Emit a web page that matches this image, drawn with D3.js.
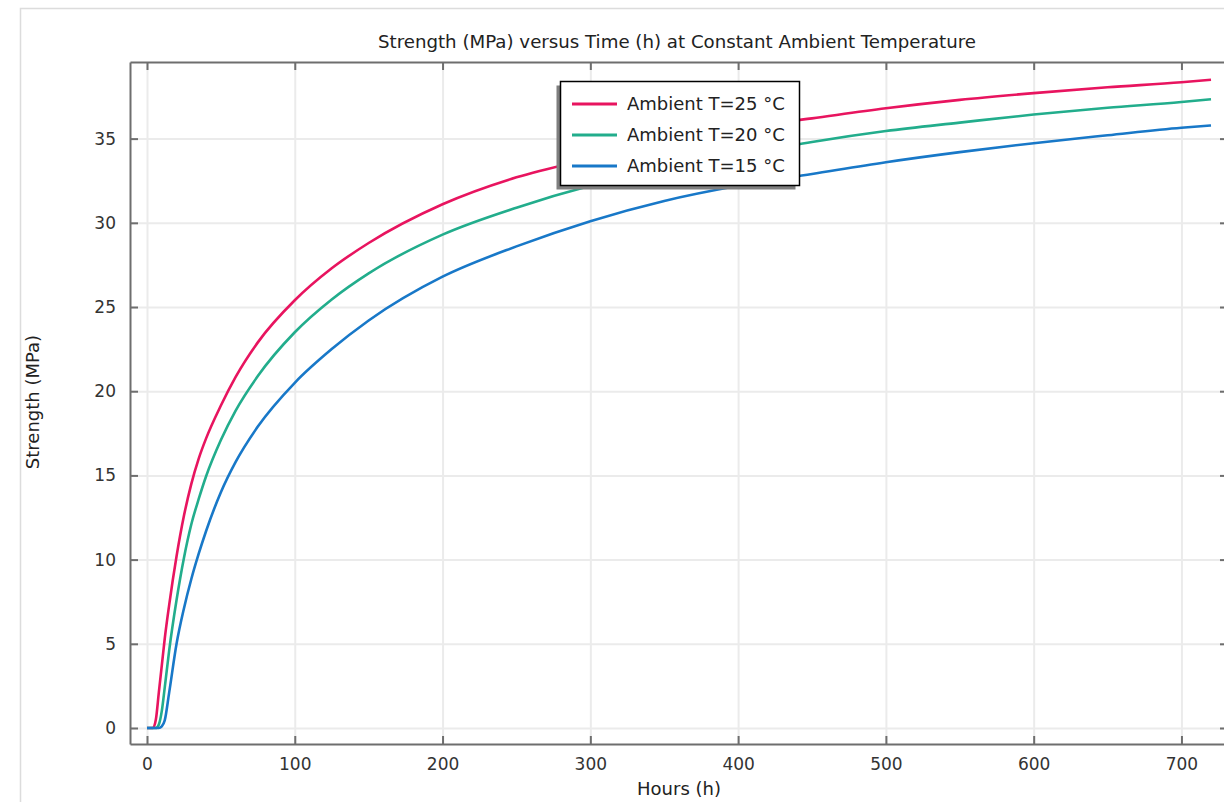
<!DOCTYPE html>
<html>
<head>
<meta charset="utf-8">
<script src="https://cdn.jsdelivr.net/npm/d3@7/dist/d3.min.js"></script>
<style>
    body { margin: 0; background: #fff; }
    svg { display: block; font-family: 'DejaVu Sans', sans-serif; }
</style>
</head>
<body>
<div id="chart"></div>
<script>
// Values
const hours = [0, 4, 6, 8, 10, 12, 15, 20, 25, 30, 35, 40, 50, 60, 75, 100, 125, 150, 200, 250, 300, 350, 400, 450, 500, 550, 600, 650, 700, 720];
const strength25 = [0, 0, 0.5, 2.1, 3.7, 5.3, 7.3, 10.2, 12.6, 14.5, 16.0, 17.2, 19.15, 20.85, 22.9, 25.4, 27.3, 28.8, 31.1, 32.7, 33.8, 34.8, 35.6, 36.2, 36.8, 37.3, 37.7, 38.05, 38.35, 38.5];
const strength20 = [0, 0, 0, 0.2, 1.0, 2.4, 4.6, 7.6, 10.1, 12.1, 13.6, 14.95, 17.1, 18.85, 20.9, 23.5, 25.45, 27.0, 29.3, 30.9, 32.2, 33.2, 34.0, 34.8, 35.45, 35.95, 36.43, 36.83, 37.17, 37.34];
const strength15 = [0, 0, 0, 0, 0.1, 0.45, 2.1, 5.0, 7.1, 8.85, 10.35, 11.7, 14.0, 15.8, 17.9, 20.5, 22.5, 24.2, 26.8, 28.6, 30.1, 31.3, 32.2, 32.9, 33.6, 34.2, 34.73, 35.2, 35.65, 35.78];

const seriesNames = ['Ambient T=25 °C', 'Ambient T=20 °C', 'Ambient T=15 °C'];
const seriesColors = ['#e8145f', '#22ad8c', '#1878c8'];
const xTicks = [0, 100, 200, 300, 400, 500, 600, 700];
const yTicks = [0, 5, 10, 15, 20, 25, 30, 35];

function createStrengthChart(containerId = 'chart') {
    const width = 1224;
    const height = 802;
    const plot = { left: 130, right: 1228, top: 62, bottom: 744 };

    const svg = d3.select(`#${containerId}`)
        .append('svg')
        .attr('width', width)
        .attr('height', height);

    // Outer frame of the graphics window
    svg.append('rect')
        .attr('x', 20.5)
        .attr('y', 8.5)
        .attr('width', 1300)
        .attr('height', 900)
        .attr('fill', 'none')
        .attr('stroke', '#dcdcdc')
        .attr('stroke-width', 1.5);

    // Scales
    const x = d3.scaleLinear()
        .domain([-11.5, 731.5])
        .range([plot.left, plot.right]);

    const y = d3.scaleLinear()
        .domain([-0.95, 39.55])
        .range([plot.bottom, plot.top]);

    const plotW = plot.right - plot.left;
    const plotH = plot.bottom - plot.top;

    // Grid lines
    svg.append('g')
        .attr('class', 'grid')
        .attr('transform', `translate(0,${plot.bottom})`)
        .call(d3.axisBottom(x).tickValues(xTicks).tickSize(-plotH).tickFormat(''))
        .call(g => g.select('.domain').remove())
        .selectAll('line')
        .attr('stroke', '#ebebeb')
        .attr('stroke-width', 2);

    svg.append('g')
        .attr('class', 'grid')
        .attr('transform', `translate(${plot.left},0)`)
        .call(d3.axisLeft(y).tickValues(yTicks).tickSize(-plotW).tickFormat(''))
        .call(g => g.select('.domain').remove())
        .selectAll('line')
        .attr('stroke', '#ebebeb')
        .attr('stroke-width', 2);

    // Curves
    const line = d3.line()
        .x(d => x(d[0]))
        .y(d => y(d[1]))
        .curve(d3.curveMonotoneX);

    [strength25, strength20, strength15].forEach((values, i) => {
        svg.append('path')
            .datum(hours.map((h, j) => [h, values[j]]))
            .attr('fill', 'none')
            .attr('stroke', seriesColors[i])
            .attr('stroke-width', 2.6)
            .attr('stroke-linejoin', 'round')
            .attr('d', line);
    });

    // Axes (ticks pointing inwards on all four sides)
    const axisColor = '#6e6e6e';
    const styleAxis = g => {
        g.select('.domain').attr('stroke', axisColor).attr('stroke-width', 2);
        g.selectAll('.tick line').attr('stroke', axisColor).attr('stroke-width', 2);
        g.selectAll('.tick text')
            .attr('fill', '#333')
            .style('font-size', '17px')
            .style('font-family', "'DejaVu Sans', sans-serif");
    };

    svg.append('g')
        .attr('transform', `translate(0,${plot.bottom})`)
        .call(d3.axisBottom(x).tickValues(xTicks).tickSizeInner(-8).tickSizeOuter(0).tickPadding(14))
        .call(styleAxis);

    svg.append('g')
        .attr('transform', `translate(0,${plot.top})`)
        .call(d3.axisTop(x).tickValues(xTicks).tickSizeInner(-8).tickSizeOuter(0).tickFormat(''))
        .call(styleAxis);

    svg.append('g')
        .attr('transform', `translate(${plot.left},0)`)
        .call(d3.axisLeft(y).tickValues(yTicks).tickSizeInner(-8).tickSizeOuter(0).tickPadding(14))
        .call(styleAxis);

    svg.append('g')
        .attr('transform', `translate(${plot.right},0)`)
        .call(d3.axisRight(y).tickValues(yTicks).tickSizeInner(-8).tickSizeOuter(0).tickFormat(''))
        .call(styleAxis);

    // Title
    svg.append('text')
        .attr('x', 677)
        .attr('y', 48)
        .attr('text-anchor', 'middle')
        .style('font-size', '18.2px')
        .style('fill', '#222')
        .text('Strength (MPa) versus Time (h) at Constant Ambient Temperature');

    // Axis labels
    svg.append('text')
        .attr('x', 679)
        .attr('y', 795)
        .attr('text-anchor', 'middle')
        .style('font-size', '18px')
        .style('fill', '#222')
        .text('Hours (h)');

    svg.append('text')
        .attr('transform', 'rotate(-90)')
        .attr('x', -402)
        .attr('y', 39)
        .attr('text-anchor', 'middle')
        .style('font-size', '18px')
        .style('fill', '#222')
        .text('Strength (MPa)');

    // Legend with drop shadow
    const legend = svg.append('g').attr('class', 'legend');
    const box = { x: 560.5, y: 81.5, w: 239, h: 104 };

    legend.append('rect')
        .attr('x', box.x - 4)
        .attr('y', box.y + 4)
        .attr('width', box.w)
        .attr('height', box.h)
        .attr('fill', '#7f7f7f');

    legend.append('rect')
        .attr('x', box.x)
        .attr('y', box.y)
        .attr('width', box.w)
        .attr('height', box.h)
        .attr('fill', '#fff')
        .attr('stroke', '#000')
        .attr('stroke-width', 1.5);

    seriesNames.forEach((name, i) => {
        const rowY = 104 + i * 31;
        legend.append('line')
            .attr('x1', 572)
            .attr('x2', 617)
            .attr('y1', rowY)
            .attr('y2', rowY)
            .attr('stroke', seriesColors[i])
            .attr('stroke-width', 3);

        legend.append('text')
            .attr('x', 627)
            .attr('y', rowY)
            .attr('dy', '0.35em')
            .style('font-size', '18px')
            .style('fill', '#222')
            .text(name);
    });
}

createStrengthChart('chart');
</script>
</body>
</html>
